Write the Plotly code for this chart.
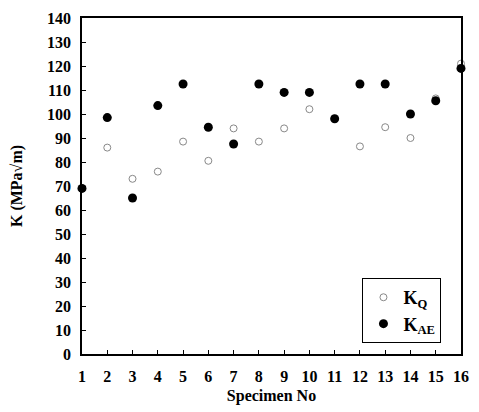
import plotly.graph_objects as go

specimens = list(range(1, 17))
k_q = [69, 86, 73, 76, 88.5, 80.5, 94, 88.5, 94, 102, 98, 86.5, 94.5, 90, 106.5, 121]
k_ae = [69, 98.5, 65, 103.5, 112.5, 94.5, 87.5, 112.5, 109, 109, 98, 112.5, 112.5, 100, 105.5, 119]
y_ticks = list(range(0, 141, 10))

font_family = "Liberation Serif"

fig = go.Figure()
fig.add_trace(go.Scatter(
    x=specimens, y=k_q, mode="markers", name="<b>K<sub>Q</sub></b>",
    marker=dict(symbol="circle-open", size=7, color="#888888", line=dict(width=1, color="#888888")),
    cliponaxis=False,
))
fig.add_trace(go.Scatter(
    x=specimens, y=k_ae, mode="markers", name="<b>K<sub>AE</sub></b>",
    marker=dict(symbol="circle", size=9, color="black"),
    cliponaxis=False,
))

fig.update_layout(
    width=479, height=412,
    margin=dict(l=82, r=10, t=14, b=57),
    paper_bgcolor="white", plot_bgcolor="white",
    font=dict(family=font_family, size=16, color="black"),
    showlegend=True,
    legend=dict(
        x=0.74, y=0.226, xanchor="left", yanchor="top",
        bordercolor="black", borderwidth=1, bgcolor="white",
        font=dict(family=font_family, size=18, color="black"),
        itemwidth=30, tracegroupgap=0,
    ),
)
fig.update_xaxes(
    range=[1, 16], tickmode="array", tickvals=specimens,
    ticktext=[f"<b>{s}</b>" for s in specimens],
    ticks="inside", ticklen=4, tickcolor="black", ticklabelstandoff=7,
    showline=True, linecolor="black", linewidth=1.5, mirror=True,
    showgrid=False, zeroline=False,
    title=dict(text="<b>Specimen No</b>", font=dict(family=font_family, size=16), standoff=6),
)
fig.update_yaxes(
    range=[0, 140], tickmode="array", tickvals=y_ticks,
    ticktext=[f"<b>{v}</b>" for v in y_ticks],
    ticks="inside", ticklen=4, tickcolor="black", ticklabelstandoff=6,
    showline=True, linecolor="black", linewidth=1.5, mirror=True,
    showgrid=False, zeroline=False,
    title=dict(text="<b>K (MPa√m)</b>", font=dict(family=font_family, size=16), standoff=20),
)

fig.write_html("out.html", post_script="document.body.style.margin='0';",
               config={"displayModeBar": False})
